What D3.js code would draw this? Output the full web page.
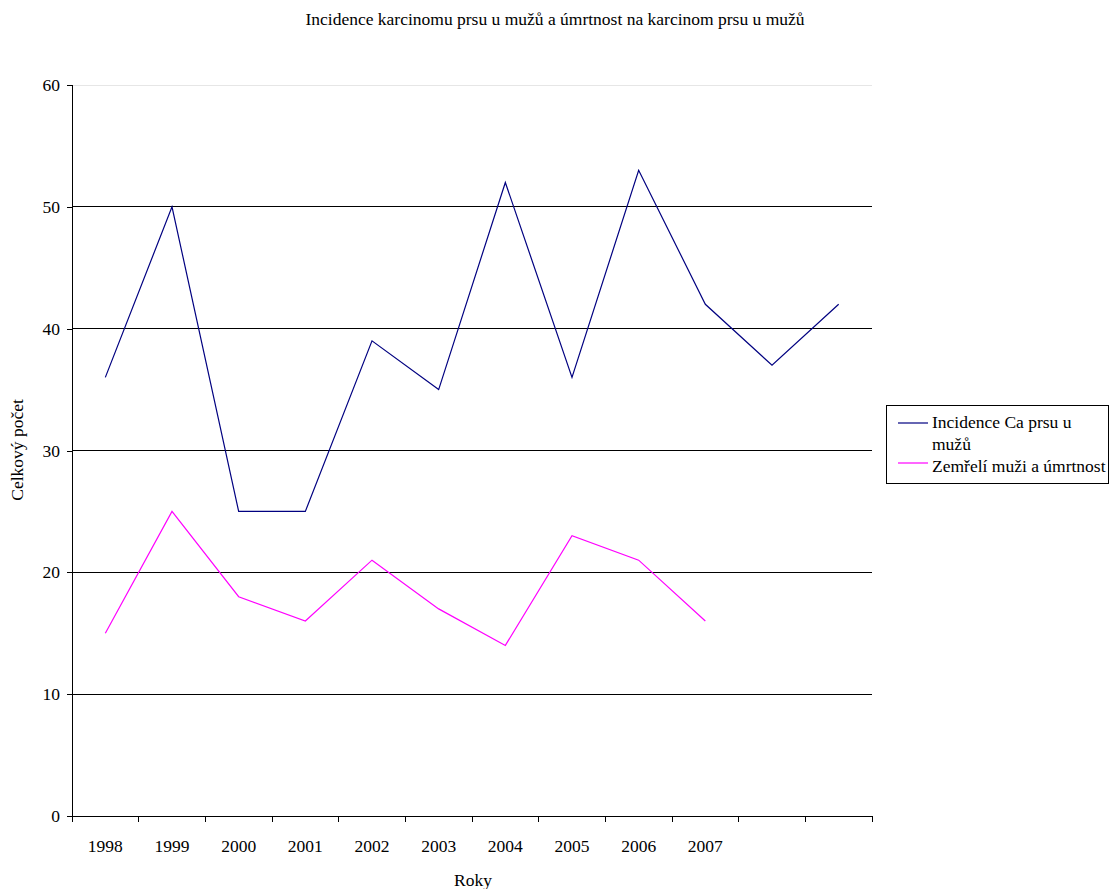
<!DOCTYPE html>
<html>
<head>
<meta charset="utf-8">
<script src="https://cdn.jsdelivr.net/npm/d3@7"></script>
<style>
  body { margin: 0; background: #fff; }
  text { font-family: "Liberation Serif", "Times New Roman", serif; fill: #000; }
</style>
</head>
<body>
<div id="chart"></div>
<script>
// categories (last two have no label)
const categories = ["1998", "1999", "2000", "2001", "2002", "2003", "2004", "2005", "2006", "2007", "", " "];
const incidence = [36, 50, 25, 25, 39, 35, 52, 36, 53, 42, 37, 42];
const deaths = [15, 25, 18, 16, 21, 17, 14, 23, 21, 16];
const yTicks = [0, 10, 20, 30, 40, 50, 60];

const svgWidth = 1110, svgHeight = 889;
const margin = { left: 72, top: 85, right: 872, bottom: 816 };
const fontSize = "17.5px";

const svg = d3.select("#chart")
    .append("svg")
    .attr("width", svgWidth)
    .attr("height", svgHeight);

const x = d3.scaleBand()
    .domain(categories)
    .range([margin.left, margin.right]);

const y = d3.scaleLinear()
    .domain([0, 60])
    .range([margin.bottom, margin.top]);

// gridlines
svg.append("g")
    .selectAll("line")
    .data(yTicks.filter(d => d > 0))
    .enter().append("line")
    .attr("x1", margin.left)
    .attr("x2", margin.right)
    .attr("y1", d => y(d))
    .attr("y2", d => y(d))
    .attr("stroke", d => d === 60 ? "#e6e6e6" : "#000")
    .attr("stroke-width", 1)
    .attr("shape-rendering", "crispEdges");

// y axis
const yAxis = svg.append("g")
    .attr("transform", `translate(${margin.left}, 0)`)
    .call(d3.axisLeft(y).tickValues(yTicks).tickSize(5).tickPadding(7));
yAxis.selectAll("text").style("font-size", fontSize).style("font-family", "Liberation Serif");
yAxis.selectAll("line, path").attr("stroke", "#000").attr("shape-rendering", "crispEdges");

// x axis with ticks between categories
const xAxisG = svg.append("g")
    .attr("transform", `translate(0, ${margin.bottom})`);
xAxisG.append("line")
    .attr("x1", margin.left).attr("x2", margin.right)
    .attr("y1", 0).attr("y2", 0)
    .attr("stroke", "#000")
    .attr("shape-rendering", "crispEdges");
const tickPos = categories.map(c => x(c)).concat([margin.right]);
xAxisG.selectAll("line.tick")
    .data(tickPos)
    .enter().append("line")
    .attr("class", "tick")
    .attr("x1", d => d).attr("x2", d => d)
    .attr("y1", 0).attr("y2", 6)
    .attr("stroke", "#000")
    .attr("shape-rendering", "crispEdges");
xAxisG.selectAll("text")
    .data(categories)
    .enter().append("text")
    .attr("x", d => x(d) + x.bandwidth() / 2)
    .attr("y", 36)
    .attr("text-anchor", "middle")
    .style("font-size", fontSize)
    .text(d => d.trim());

// lines
const line = d3.line()
    .x((d, i) => x(categories[i]) + x.bandwidth() / 2)
    .y(d => y(d));

svg.append("path")
    .datum(incidence)
    .attr("fill", "none")
    .attr("stroke", "#000080")
    .attr("stroke-width", 1.2)
    .attr("d", line);

svg.append("path")
    .datum(deaths)
    .attr("fill", "none")
    .attr("stroke", "#ff00ff")
    .attr("stroke-width", 1.2)
    .attr("d", line);

// title
svg.append("text")
    .attr("x", 555)
    .attr("y", 25)
    .attr("text-anchor", "middle")
    .style("font-size", fontSize)
    .text("Incidence karcinomu prsu u mužů a úmrtnost na karcinom prsu u mužů");

// axis labels
svg.append("text")
    .attr("x", 473)
    .attr("y", 886)
    .attr("text-anchor", "middle")
    .style("font-size", fontSize)
    .text("Roky");

svg.append("text")
    .attr("transform", "translate(23, 450) rotate(-90)")
    .attr("text-anchor", "middle")
    .style("font-size", fontSize)
    .text("Celkový počet");

// legend
const legend = svg.append("g").attr("transform", "translate(886, 405)");
legend.append("rect")
    .attr("width", 222).attr("height", 78)
    .attr("fill", "#fff").attr("stroke", "#000")
    .attr("shape-rendering", "crispEdges");

const legendItems = [
    { lines: ["Incidence Ca prsu u", "mužů"], color: "#000080", y: 18, ty: 23 },
    { lines: ["Zemřelí muži a úmrtnost"], color: "#ff00ff", y: 58, ty: 67 }
];
const li = legend.selectAll("g.item")
    .data(legendItems)
    .enter().append("g")
    .attr("class", "item");
li.append("line")
    .attr("x1", 12).attr("x2", 42)
    .attr("y1", d => d.y).attr("y2", d => d.y)
    .attr("stroke", d => d.color)
    .attr("stroke-width", 1.2);
li.each(function (d) {
    const t = d3.select(this).append("text")
        .attr("x", 46)
        .attr("y", d.ty)
        .style("font-size", fontSize);
    d.lines.forEach((s, i) => {
        t.append("tspan").attr("x", 46).attr("dy", i === 0 ? 0 : 22).text(s);
    });
});
</script>
</body>
</html>
